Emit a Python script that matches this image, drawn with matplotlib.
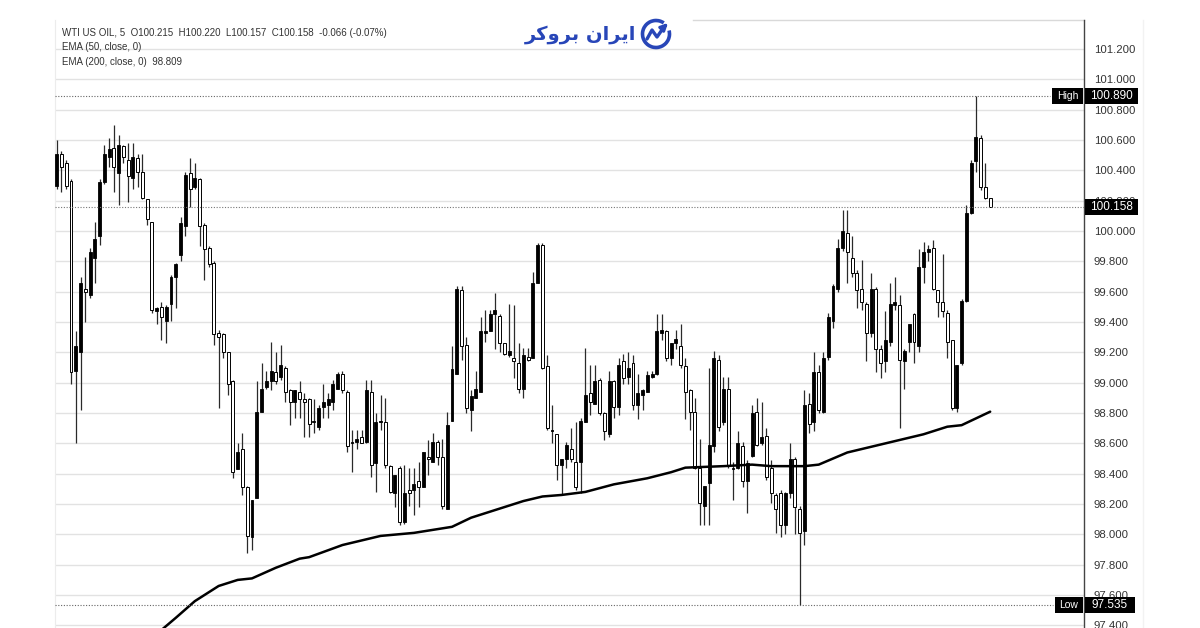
import matplotlib
matplotlib.use('Agg')
import matplotlib.pyplot as plt
import numpy as np
from matplotlib.transforms import blended_transform_factory, IdentityTransform
from matplotlib.patches import Arc, Rectangle, FancyArrowPatch
from matplotlib.lines import Line2D

# ---------------- data (5-minute WTI candles) ----------------
opens = [100.30, 100.51, 100.45, 100.33, 99.08, 99.20, 99.62, 99.58, 99.82, 99.97,
         100.32, 100.49, 100.55, 100.38, 100.56, 100.47, 100.35, 100.48, 100.39, 100.21,
         100.06, 99.47, 99.50, 99.41, 99.52, 99.70, 99.84, 100.03, 100.38, 100.29,
         100.34, 100.04, 99.89, 99.79, 99.33, 99.32, 99.20, 99.01, 98.43, 98.56,
         98.31, 97.98, 98.24, 98.81, 98.97, 99.01, 99.07, 99.04, 99.10, 98.95,
         98.87, 98.94, 98.89, 98.89, 98.74, 98.71, 98.84, 98.85, 98.87, 98.96,
         99.06, 98.94, 98.61, 98.61, 98.64, 98.61, 98.94, 98.47, 98.75, 98.74,
         98.45, 98.27, 98.44, 98.08, 98.29, 98.29, 98.35, 98.31, 98.51, 98.48,
         98.61, 98.51, 98.17, 98.75, 99.06, 99.61, 99.25, 98.82, 98.90, 98.94,
         99.33, 99.34, 99.45, 99.44, 99.26, 99.18, 99.16, 99.13, 98.96, 99.17,
         99.16, 99.66, 99.91, 99.11, 98.69, 98.66, 98.46, 98.50, 98.56, 98.48,
         98.48, 98.74, 98.93, 98.86, 99.02, 98.80, 98.66, 99.01, 98.84, 99.14,
         99.04, 99.13, 98.85, 98.92, 98.94, 99.04, 99.06, 99.33, 99.34, 99.16,
         99.26, 99.24, 99.11, 98.95, 98.81, 98.44, 98.19, 98.34, 98.58, 99.15,
         98.74, 98.96, 98.43, 98.44, 98.58, 98.35, 98.52, 98.81, 98.60, 98.65,
         98.44, 98.26, 98.27, 98.06, 98.27, 98.50, 98.17, 98.02, 98.86, 98.74,
         99.07, 98.81, 99.17, 99.41, 99.62, 99.89, 99.99, 99.82, 99.72, 99.62,
         99.52, 99.33, 99.62, 99.22, 99.14, 99.27, 99.51, 99.51, 99.14, 99.27,
         99.45, 99.24, 99.76, 99.86, 99.89, 99.61, 99.53, 99.46, 99.28, 98.83,
         99.13, 99.54, 100.12, 100.46, 100.61, 100.29, 100.215]
highs = [100.60, 100.53, 100.47, 100.34, 99.34, 99.70, 99.83, 99.89, 100.06, 100.34,
         100.57, 100.61, 100.70, 100.63, 100.57, 100.58, 100.58, 100.51, 100.51, 100.21,
         100.06, 99.50, 99.53, 99.51, 99.71, 99.79, 100.09, 100.39, 100.48, 100.45,
         100.35, 100.05, 99.90, 99.80, 99.35, 99.33, 99.20, 99.02, 98.60, 98.67,
         98.32, 98.23, 99.01, 99.13, 99.08, 99.27, 99.20, 99.25, 99.11, 98.96,
         98.95, 99.01, 98.93, 98.90, 98.89, 98.85, 98.99, 98.93, 99.02, 99.07,
         99.08, 98.95, 98.69, 98.69, 98.69, 99.02, 99.02, 98.80, 98.92, 98.90,
         98.46, 98.39, 98.45, 98.46, 98.44, 98.44, 98.48, 98.54, 98.62, 98.67,
         98.62, 98.63, 98.81, 99.24, 99.64, 99.64, 99.30, 98.95, 99.08, 99.43,
         99.48, 99.48, 99.59, 99.45, 99.26, 99.52, 99.51, 99.26, 99.23, 99.23,
         99.73, 99.92, 99.92, 99.18, 98.85, 98.66, 98.50, 98.61, 98.70, 98.74,
         98.77, 99.23, 99.12, 99.12, 99.03, 98.81, 99.08, 99.02, 99.16, 99.19,
         99.20, 99.18, 99.06, 98.96, 99.08, 99.08, 99.45, 99.45, 99.35, 99.26,
         99.35, 99.39, 99.16, 98.96, 98.90, 98.63, 98.32, 99.10, 99.21, 99.18,
         99.04, 99.04, 98.48, 98.68, 98.61, 98.49, 98.85, 98.90, 98.87, 98.70,
         98.49, 98.27, 98.29, 98.28, 98.60, 98.51, 98.19, 98.95, 98.93, 99.20,
         99.12, 99.20, 99.46, 99.65, 99.95, 100.14, 100.14, 99.97, 99.74, 99.81,
         99.53, 99.72, 99.63, 99.25, 99.47, 99.66, 99.70, 99.58, 99.22, 99.32,
         99.46, 99.88, 99.93, 99.91, 99.94, 99.61, 99.85, 99.48, 99.28, 99.12,
         99.55, 100.17, 100.47, 100.89, 100.63, 100.45, 100.22]
lows = [100.28, 100.26, 100.28, 98.99, 98.60, 98.82, 99.40, 99.56, 99.66, 99.91,
        100.31, 100.42, 100.26, 100.17, 100.45, 100.19, 100.28, 100.29, 100.21, 100.04,
        99.46, 99.39, 99.28, 99.26, 99.41, 99.49, 99.80, 99.97, 100.16, 100.28,
        99.90, 99.68, 99.76, 99.25, 98.83, 99.16, 98.92, 98.37, 98.43, 98.26,
        97.88, 97.90, 98.24, 98.81, 98.96, 98.95, 98.99, 99.02, 98.87, 98.72,
        98.77, 98.77, 98.64, 98.64, 98.67, 98.69, 98.77, 98.77, 98.82, 98.96,
        98.93, 98.54, 98.41, 98.56, 98.60, 98.60, 98.38, 98.28, 98.69, 98.44,
        98.27, 98.18, 98.06, 98.07, 98.19, 98.13, 98.18, 98.31, 98.39, 98.48,
        98.46, 98.17, 98.17, 98.75, 99.06, 99.15, 98.80, 98.68, 98.90, 98.94,
        99.27, 99.34, 99.22, 99.20, 99.18, 99.17, 99.03, 98.93, 98.90, 99.14,
        99.16, 99.66, 99.09, 98.69, 98.60, 98.36, 98.26, 98.44, 98.48, 98.29,
        98.27, 98.74, 98.79, 98.86, 98.79, 98.62, 98.64, 98.77, 98.79, 98.99,
        98.99, 98.82, 98.76, 98.82, 98.94, 99.03, 99.05, 99.28, 99.14, 99.12,
        99.22, 99.10, 98.76, 98.69, 98.43, 98.06, 98.06, 98.06, 98.54, 98.68,
        98.72, 98.44, 98.23, 98.43, 98.31, 98.14, 98.51, 98.58, 98.59, 98.36,
        98.21, 98.01, 97.98, 98.00, 98.24, 98.00, 97.535, 97.93, 98.67, 98.68,
        98.80, 98.80, 99.15, 99.36, 99.60, 99.87, 99.66, 99.70, 99.49, 99.48,
        99.14, 99.30, 99.07, 99.03, 99.07, 99.24, 99.48, 98.70, 98.96, 99.20,
        99.13, 99.20, 99.66, 99.80, 99.61, 99.43, 99.43, 99.16, 98.82, 98.81,
        99.12, 99.53, 100.11, 100.39, 100.27, 100.21, 100.157]
closes = [100.51, 100.42, 100.30, 99.07, 99.24, 99.66, 99.60, 99.86, 99.95, 100.32,
          100.51, 100.54, 100.42, 100.57, 100.49, 100.36, 100.49, 100.39, 100.22, 100.08,
          99.48, 99.49, 99.43, 99.50, 99.70, 99.78, 100.05, 100.37, 100.28, 100.35,
          100.03, 99.88, 99.78, 99.32, 99.30, 99.20, 98.99, 98.41, 98.54, 98.31,
          97.99, 98.23, 98.81, 98.96, 99.01, 99.08, 99.01, 99.12, 98.94, 98.87,
          98.95, 98.89, 98.87, 98.73, 98.75, 98.83, 98.87, 98.89, 98.99, 99.06,
          98.95, 98.58, 98.60, 98.63, 98.60, 98.95, 98.46, 98.74, 98.74, 98.46,
          98.28, 98.39, 98.08, 98.27, 98.27, 98.33, 98.31, 98.54, 98.50, 98.61,
          98.51, 98.19, 98.72, 99.09, 99.62, 99.24, 98.83, 98.91, 98.96, 99.34,
          99.34, 99.45, 99.48, 99.26, 99.19, 99.21, 99.14, 98.96, 99.18, 99.15,
          99.66, 99.91, 99.10, 98.70, 98.68, 98.46, 98.50, 98.59, 98.50, 98.31,
          98.75, 98.92, 98.87, 99.01, 98.80, 98.68, 99.01, 98.84, 99.12, 99.03,
          99.10, 98.85, 98.93, 98.95, 99.05, 99.06, 99.34, 99.35, 99.16, 99.26,
          99.29, 99.12, 98.94, 98.81, 98.44, 98.21, 98.32, 98.59, 99.16, 98.71,
          98.96, 98.46, 98.44, 98.60, 98.35, 98.47, 98.80, 98.59, 98.64, 98.38,
          98.27, 98.17, 98.06, 98.27, 98.50, 98.18, 98.01, 98.85, 98.73, 99.07,
          98.82, 99.16, 99.43, 99.64, 99.89, 100.00, 99.86, 99.72, 99.61, 99.53,
          99.33, 99.62, 99.22, 99.13, 99.28, 99.52, 99.53, 99.15, 99.21, 99.39,
          99.27, 99.76, 99.86, 99.88, 99.62, 99.53, 99.47, 99.27, 98.83, 99.12,
          99.54, 100.12, 100.45, 100.62, 100.29, 100.22, 100.158]

# EMA(200) values read at some candle indices
ema_idx = [22, 25, 29, 34, 38, 41, 46, 51, 53, 60, 68, 75, 83, 87, 93, 98, 102, 106,
           111, 117, 124, 129, 132, 140, 146, 150, 157, 160, 166, 170, 182, 187, 190, 196]
ema_val = [97.37, 97.45, 97.56, 97.66, 97.70, 97.71, 97.78, 97.84, 97.85, 97.93, 97.99,
           98.01, 98.05, 98.11, 98.17, 98.22, 98.25, 98.26, 98.28, 98.33, 98.37, 98.41,
           98.44, 98.45, 98.46, 98.45, 98.45, 98.46, 98.54, 98.57, 98.66, 98.71, 98.72,
           98.809]

y_ticks = [97.4, 97.6, 97.8, 98.0, 98.2, 98.4, 98.6, 98.8, 99.0, 99.2, 99.4, 99.6,
           99.8, 100.0, 100.2, 100.4, 100.6, 100.8, 101.0, 101.2]
high_val, low_val, last_val = 100.890, 97.535, 100.158
header = "WTI US OIL, 5  O100.215  H100.220  L100.157  C100.158  -0.066 (-0.07%)"
ema50_label = "EMA (50, close, 0)"
ema200_label = "EMA (200, close, 0)  98.809"
brand = '\uFEAE\uFB90\uFEED\uFEAE\uFE91 \uFEE5\uFE8D\uFEAE\uFEF3\uFE8D'  # ایران بروکر (pre-shaped)

# ---------------- figure ----------------
W, H = 1200, 628
fig = plt.figure(figsize=(W / 100, H / 100), dpi=100)
fig.patch.set_facecolor('white')
ax = fig.add_axes([55 / W, 0, 1029 / W, 608 / H])
ax.set_facecolor('white')

o = np.array(opens); h = np.array(highs); l = np.array(lows); c = np.array(closes)
x = np.arange(len(o))
up = c >= o
bot = np.minimum(o, c)
ht = np.maximum(np.abs(c - o), 0.004)

ax.vlines(x, l, h, color='#2a2a2a', lw=0.9, zorder=2)
ax.bar(x[up], ht[up], bottom=bot[up], width=0.62, color='black', edgecolor='black',
       linewidth=0.6, zorder=3)
ax.bar(x[~up], ht[~up], bottom=bot[~up], width=0.62, color='white', edgecolor='black',
       linewidth=0.7, zorder=3)

ax.plot(ema_idx, ema_val, color='black', lw=1.8, zorder=4, solid_capstyle='round',
        solid_joinstyle='round')

ax.set_xlim(-0.36, 215.7)
ax.set_ylim(97.383, 101.391)
ax.set_yticks(y_ticks)
ax.set_yticklabels([f"{v:.3f}" for v in y_ticks])
ax.yaxis.tick_right()
ax.set_xticks([])
ax.tick_params(axis='y', length=0, pad=7, labelsize=8.2, labelcolor='#333333')
for t in ax.get_yticklabels():
    t.set_fontfamily('Liberation Sans')
ax.grid(axis='y', color='#e2e2e2', lw=1)
ax.set_axisbelow(True)
for s in ['top', 'bottom']:
    ax.spines[s].set_visible(False)
ax.spines['left'].set_color('#ececec')
ax.spines['right'].set_color('#444444')
ax.spines['right'].set_linewidth(1)
ax.plot([(693 - 55) / 1029, 1], [1, 1], transform=ax.transAxes, color='#d9d9d9', lw=1,
        clip_on=False)

trans = blended_transform_factory(ax.transAxes, ax.transData)
ax.plot([0, (1050 - 55) / 1029], [high_val] * 2, transform=trans, ls=(0, (1, 1.5)),
        color='#666666', lw=0.8, zorder=5)
ax.plot([0, (1053 - 55) / 1029], [low_val] * 2, transform=trans, ls=(0, (1, 1.5)),
        color='#666666', lw=0.8, zorder=5)
ax.plot([0, 1], [last_val] * 2, transform=trans, ls=(0, (1, 1.5)),
        color='#777777', lw=0.8, zorder=5)

hh = 8 / 151.7  # half box height in price units


def tag(text, yv, x0, x1, fs):
    a0 = (x0 - 55) / 1029
    a1 = (x1 - 55) / 1029
    ax.add_patch(Rectangle((a0, yv - hh), a1 - a0, 2 * hh, transform=trans,
                           facecolor='black', edgecolor='none', clip_on=False, zorder=20))
    ax.text((a0 + a1) / 2, yv, text, transform=trans, color='white', fontsize=fs,
            ha='center', va='center', family='Liberation Sans', clip_on=False, zorder=21)


tag('High', high_val, 1052, 1083, 7.5)
tag(f"{high_val:.3f}", high_val, 1085, 1138, 8.5)
tag(f"{last_val:.3f}", last_val, 1085, 1138, 8.5)
tag('Low', low_val, 1055, 1083, 7.5)
tag(f"{low_val:.3f}", low_val, 1085, 1135, 8.5)

fig.add_artist(Line2D([1143, 1143], [0, H - 20], transform=IdentityTransform(),
                      color='#f2f2f2', lw=1))

# header texts
txt_kw = dict(fontsize=7, family='Liberation Sans', color='#333333', va='center', ha='left')
fig.text(62 / W, 1 - 33 / H, header, **txt_kw)
fig.text(62 / W, 1 - 47 / H, ema50_label, **txt_kw)
fig.text(62 / W, 1 - 62 / H, ema200_label, **txt_kw)

# brand logo
blue = '#2846b8'
fig.text(580 / W, 1 - 35 / H, brand, fontsize=14, fontweight='bold', color=blue,
         ha='center', va='center', family=['DejaVu Sans'])
cx, cy = 656, H - 34
fig.add_artist(Arc((cx, cy), 27, 27, theta1=55, theta2=375, transform=IdentityTransform(),
                   color=blue, lw=2.6))
fig.add_artist(Line2D([cx - 9, cx - 4, cx + 1, cx + 8], [cy - 5, cy + 4, cy - 3, cy + 7],
                      transform=IdentityTransform(), color=blue, lw=2.4,
                      solid_joinstyle='round', solid_capstyle='round'))
fig.add_artist(FancyArrowPatch((cx + 6, cy + 5), (cx + 14, cy + 13),
                               transform=IdentityTransform(), arrowstyle='-|>',
                               mutation_scale=10, color=blue, lw=2.2))

fig.savefig('out.png', dpi=100, facecolor='white')
